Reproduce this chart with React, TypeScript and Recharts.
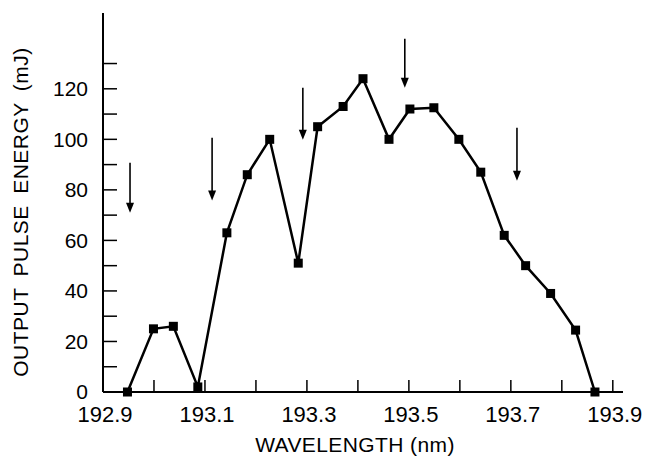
import React from 'react'
import { ComposedChart, Line, XAxis, YAxis, ReferenceLine } from 'recharts'

const wavelength = [
  192.948, 192.999, 193.038, 193.086, 193.143, 193.183, 193.227, 193.283, 193.321, 193.371, 193.41,
  193.461, 193.502, 193.549, 193.598, 193.641, 193.687, 193.729, 193.778, 193.827, 193.865,
]
const energy = [0, 25, 26, 2, 63, 86, 100, 51, 105, 113, 124, 100, 112, 112.5, 100, 87, 62, 50, 39, 24.5, 0]

// arrows marking mode positions (x, top of shaft, tip)
const arrowX = [192.953, 193.114, 193.292, 193.492, 193.712]
const arrowTop = [90.7, 100.6, 120.4, 139.8, 104.6]
const arrowTip = [70.9, 75.8, 99.8, 120.4, 83.6]

const xTicks = [192.9, 193.0, 193.1, 193.2, 193.3, 193.4, 193.5, 193.6, 193.7, 193.8, 193.9]
const yTicks = [0, 10, 20, 30, 40, 50, 60, 70, 80, 90, 100, 110, 120, 130]

const FONT = '"Liberation Sans", Arial, sans-serif'

const data = wavelength.map((w, i) => ({ w, e: energy[i] }))

const SquareDot = (props: any) => {
  const { cx, cy, index } = props
  if (cx == null || cy == null) return null
  return <rect key={index} x={cx - 4.5} y={cy - 4.5} width={9} height={9} fill="#000" />
}

const Arrow = (props: any) => {
  const { x1, y1, x2, y2 } = props
  const head = 10
  return (
    <g>
      <line x1={x1} y1={y1} x2={x2} y2={y2 - head + 1} stroke="#000" strokeWidth={1.6} />
      <polygon points={`${x2 - 4},${y2 - head} ${x2 + 4},${y2 - head} ${x2},${y2}`} fill="#000" />
    </g>
  )
}

export default function App() {
  return (
    <div style={{ position: 'absolute', left: 0, top: 0, background: '#fff' }}>
      <ComposedChart width={650} height={463} data={data} margin={{ top: 13, right: 27, left: 0, bottom: 0 }}>
        <XAxis
          dataKey="w"
          type="number"
          domain={[192.9, 193.92]}
          ticks={xTicks}
          interval={0}
          height={71}
          tickSize={-12}
          tickMargin={26}
          tickFormatter={(v: number, i: number) => (i % 2 === 0 ? v.toFixed(1) : '')}
          tick={{ fill: '#000', fontSize: 22, fontFamily: FONT, dx: 2 }}
          axisLine={{ stroke: '#000', strokeWidth: 2 }}
          tickLine={{ stroke: '#000', strokeWidth: 1.5 }}
          label={{
            content: () => (
              <text x={355} y={452} textAnchor="middle" fontSize={21} fontFamily={FONT} fill="#000" letterSpacing={0.4}>
                WAVELENGTH (nm)
              </text>
            ),
          }}
        />
        <YAxis
          type="number"
          domain={[0, 150]}
          ticks={yTicks}
          interval={0}
          width={103}
          tickSize={-14}
          tickMargin={29}
          tickFormatter={(v: number) => (v % 20 === 0 ? String(v) : '')}
          tick={{ fill: '#000', fontSize: 21, fontFamily: FONT }}
          axisLine={{ stroke: '#000', strokeWidth: 2 }}
          tickLine={{ stroke: '#000', strokeWidth: 1.5 }}
          label={{
            content: () => (
              <text
                x={27.5}
                y={212}
                transform="rotate(-90 27.5 212)"
                textAnchor="middle"
                fontSize={21}
                fontFamily={FONT}
                letterSpacing={0.5}
                wordSpacing={5}
                fill="#000"
              >
                OUTPUT PULSE ENERGY (mJ)
              </text>
            ),
          }}
        />
        {arrowX.map((x, i) => (
          <ReferenceLine
            key={i}
            segment={[
              { x, y: arrowTop[i] },
              { x, y: arrowTip[i] },
            ]}
            shape={Arrow}
          />
        ))}
        <Line
          dataKey="e"
          type="linear"
          stroke="#000"
          strokeWidth={2.5}
          dot={SquareDot}
          activeDot={false}
          isAnimationActive={false}
        />
      </ComposedChart>
    </div>
  )
}
